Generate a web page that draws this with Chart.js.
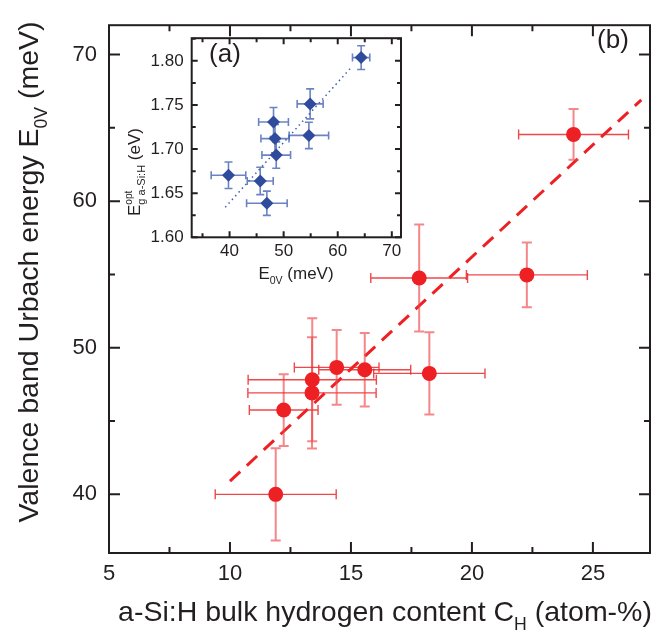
<!DOCTYPE html>
<html>
<head>
<meta charset="utf-8">
<script src="https://cdn.jsdelivr.net/npm/chart.js@4.4.1/dist/chart.umd.min.js"></script>
<style>
    html, body { margin: 0; padding: 0; background: #fff; }
    #wrap { position: relative; width: 651px; height: 638px; }
    #mainChart { position: absolute; left: 0; top: 0; }
    #insetChart { position: absolute; left: 100px; top: 20px; }
</style>
</head>
<body>
<div id="wrap">
    <canvas id="mainChart" width="651" height="638"></canvas>
    <canvas id="insetChart" width="310" height="270"></canvas>
</div>
<script>
// =====================
// DATA
// =====================

// panel (b): hydrogen content vs. Urbach energy
const hydrogenContent = [11.89, 12.22, 13.39, 13.40, 14.41, 15.57, 18.24, 17.82, 22.27, 24.20];
const hydrogenErr     = [2.50, 1.42, 2.65, 2.65, 1.75, 1.90, 2.30, 2.00, 2.50, 2.27];
const urbachEnergy    = [40.0, 45.75, 46.92, 47.82, 48.66, 48.50, 48.25, 54.76, 54.97, 64.55];
const urbachErr       = [3.15, 2.45, 3.80, 4.20, 2.55, 2.50, 2.80, 3.65, 2.20, 1.73];

// dashed guide line in (b), end points
const fitX = [10.0, 27.0];
const fitY = [40.9, 66.9];

// panel (a): Urbach energy vs. optical gap
const insetE0v    = [64.33, 54.90, 48.13, 48.40, 48.63, 54.67, 39.80, 45.67, 46.90];
const insetE0vErr = [1.60, 2.40, 2.75, 2.60, 2.65, 3.65, 3.20, 2.40, 3.75];
const insetGap    = [1.8037, 1.7512, 1.7307, 1.7119, 1.6932, 1.7155, 1.6704, 1.6639, 1.6386];
const insetGapErr = [0.0135, 0.0170, 0.0165, 0.0160, 0.0150, 0.0150, 0.0150, 0.0155, 0.0137];

// dotted guide line in (a), end points
const insetFitX = [39.2, 62.7];
const insetFitY = [1.634, 1.794];

const mainXTicks = [5, 10, 15, 20, 25];
const mainYTicks = [40, 50, 60, 70];
const insetXTicks = [40, 50, 60, 70];
const insetYTicks = [1.60, 1.65, 1.70, 1.75, 1.80];

const FONT = '"Liberation Sans", Arial, Helvetica, sans-serif';
const INK = '#231f20';
const RED = '#ed2024';
const BLUE = '#2f4b9c';

// =====================
// PLUGINS
// =====================

// error bars, drawn just before the dataset that owns them
const errorBars = {
    id: 'errorBars',
    beforeDatasetDraw(chart, args) {
        const ds = chart.data.datasets[args.index];
        if (!ds.errX) return;
        const { ctx, scales: { x, y } } = chart;
        const cap = ds.errCap || 4;
        ctx.save();
        ds.data.forEach((p, i) => {
            const px = x.getPixelForValue(p.x);
            const py = y.getPixelForValue(p.y);
            const xa = x.getPixelForValue(p.x - ds.errX[i]);
            const xb = x.getPixelForValue(p.x + ds.errX[i]);
            const ya = y.getPixelForValue(p.y - ds.errY[i]);
            const yb = y.getPixelForValue(p.y + ds.errY[i]);

            ctx.strokeStyle = ds.errColorY;
            ctx.lineWidth = ds.errWidthY;
            ctx.beginPath();
            ctx.moveTo(px, ya); ctx.lineTo(px, yb);
            ctx.moveTo(px - cap, ya); ctx.lineTo(px + cap, ya);
            ctx.moveTo(px - cap, yb); ctx.lineTo(px + cap, yb);
            ctx.stroke();

            ctx.strokeStyle = ds.errColorX;
            ctx.lineWidth = ds.errWidthX;
            ctx.beginPath();
            ctx.moveTo(xa, py); ctx.lineTo(xb, py);
            ctx.moveTo(xa, py - cap); ctx.lineTo(xa, py + cap);
            ctx.moveTo(xb, py - cap); ctx.lineTo(xb, py + cap);
            ctx.stroke();
        });
        ctx.restore();
    }
};

// box frame with inward ticks on all four sides
const frameTicks = {
    id: 'frameTicks',
    afterDraw(chart, args, opts) {
        const { ctx, chartArea: a, scales: { x, y } } = chart;
        ctx.save();
        ctx.strokeStyle = opts.color;
        ctx.lineWidth = opts.width;
        ctx.strokeRect(a.left, a.top, a.right - a.left, a.bottom - a.top);

        const withMinors = (scale) => {
            const vals = scale.ticks.map(t => t.value);
            const step = vals[1] - vals[0];
            const minors = [vals[0] - step / 2, ...vals.map(v => v + step / 2)]
                .filter(v => v > scale.min && v < scale.max);
            return { vals, minors };
        };

        ctx.beginPath();
        const xs = withMinors(x);
        xs.vals.forEach(v => {
            const p = x.getPixelForValue(v);
            ctx.moveTo(p, a.bottom); ctx.lineTo(p, a.bottom - opts.major);
            ctx.moveTo(p, a.top); ctx.lineTo(p, a.top + opts.major);
        });
        xs.minors.forEach(v => {
            const p = x.getPixelForValue(v);
            ctx.moveTo(p, a.bottom); ctx.lineTo(p, a.bottom - opts.minor);
            ctx.moveTo(p, a.top); ctx.lineTo(p, a.top + opts.minor);
        });
        const ys = withMinors(y);
        ys.vals.forEach(v => {
            const p = y.getPixelForValue(v);
            ctx.moveTo(a.left, p); ctx.lineTo(a.left + opts.major, p);
            ctx.moveTo(a.right, p); ctx.lineTo(a.right - opts.major, p);
        });
        ys.minors.forEach(v => {
            const p = y.getPixelForValue(v);
            ctx.moveTo(a.left, p); ctx.lineTo(a.left + opts.minor, p);
            ctx.moveTo(a.right, p); ctx.lineTo(a.right - opts.minor, p);
        });
        ctx.stroke();
        ctx.restore();
    }
};

// text with sub/superscripts (axis titles, panel letters)
function partWidth(ctx, p, size) {
    if (p.t !== undefined) {
        ctx.font = size + 'px ' + FONT;
        return ctx.measureText(p.t).width;
    }
    let w = 0;
    if (p.sub) { ctx.font = (p.subSize || size * 0.62) + 'px ' + FONT; w = Math.max(w, ctx.measureText(p.sub).width); }
    if (p.sup) { ctx.font = (p.supSize || size * 0.55) + 'px ' + FONT; w = Math.max(w, ctx.measureText(p.sup).width); }
    return w;
}

function drawRich(ctx, item) {
    const size = item.size;
    ctx.save();
    ctx.translate(item.x, item.y);
    if (item.rotate) ctx.rotate(item.rotate);
    ctx.fillStyle = INK;
    ctx.textBaseline = 'alphabetic';
    ctx.textAlign = 'left';
    const total = item.parts.reduce((s, p) => s + partWidth(ctx, p, size), 0);
    let cx = item.align === 'left' ? 0 : -total / 2;
    item.parts.forEach(p => {
        const w = partWidth(ctx, p, size);
        if (p.t !== undefined) {
            ctx.font = size + 'px ' + FONT;
            ctx.fillText(p.t, cx, 0);
        } else {
            if (p.sub) {
                ctx.font = (p.subSize || size * 0.62) + 'px ' + FONT;
                ctx.fillText(p.sub, cx, size * 0.3);
            }
            if (p.sup) {
                ctx.font = (p.supSize || size * 0.55) + 'px ' + FONT;
                ctx.fillText(p.sup, cx, -size * 0.45);
            }
        }
        cx += w;
    });
    ctx.restore();
}

const richText = {
    id: 'richText',
    afterDraw(chart, args, opts) {
        opts.items.forEach(item => drawRich(chart.ctx, item));
    }
};

// =====================
// PANEL (b)
// =====================

new Chart(document.getElementById('mainChart'), {
    type: 'scatter',
    plugins: [errorBars, frameTicks, richText],
    data: {
        datasets: [
            {
                label: 'a-Si:H',
                data: hydrogenContent.map((v, i) => ({ x: v, y: urbachEnergy[i] })),
                errX: hydrogenErr,
                errY: urbachErr,
                errCap: 5,
                errColorX: 'rgba(236, 40, 44, 0.85)',
                errWidthX: 1.4,
                errColorY: 'rgba(238, 70, 74, 0.65)',
                errWidthY: 2,
                pointRadius: 7.5,
                pointBackgroundColor: RED,
                pointBorderWidth: 0,
                order: 0
            },
            {
                label: 'fit',
                data: fitX.map((v, i) => ({ x: v, y: fitY[i] })),
                showLine: true,
                borderColor: RED,
                borderWidth: 3,
                borderDash: [14, 9],
                pointRadius: 0,
                fill: false,
                order: 1
            }
        ]
    },
    options: {
        responsive: false,
        animation: false,
        events: [],
        layout: { padding: { top: 8, right: 1, left: 0, bottom: 0 }, autoPadding: false },
        plugins: {
            legend: { display: false },
            tooltip: { enabled: false },
            frameTicks: { color: INK, width: 2, major: 11, minor: 6 },
            richText: {
                items: [
                    { x: 385, y: 621, size: 28.5, parts: [
                        { t: 'a-Si:H bulk hydrogen content C' }, { sub: 'H' }, { t: ' (atom-%)' }] },
                    { x: 38, y: 272, size: 28.5, rotate: -Math.PI / 2, parts: [
                        { t: 'Valence band Urbach energy E' }, { sub: '0V' }, { t: ' (meV)' }] },
                    { x: 613, y: 48, size: 26, parts: [{ t: '(b)' }] }
                ]
            }
        },
        scales: {
            x: {
                type: 'linear', min: 5, max: 27.36,
                afterBuildTicks: (s) => { s.ticks = mainXTicks.map(v => ({ value: v })); },
                afterFit: (s) => { s.height = 85; },
                ticks: { font: { size: 22, family: FONT }, color: INK, padding: 8, maxRotation: 0 },
                grid: { display: false, drawTicks: false },
                border: { display: false }
            },
            y: {
                type: 'linear', min: 36, max: 72,
                afterBuildTicks: (s) => { s.ticks = mainYTicks.map(v => ({ value: v })); },
                afterFit: (s) => { s.width = 109; },
                ticks: { font: { size: 22, family: FONT }, color: INK, padding: 12 },
                grid: { display: false, drawTicks: false },
                border: { display: false }
            }
        }
    }
});

// =====================
// PANEL (a) INSET
// =====================

new Chart(document.getElementById('insetChart'), {
    type: 'scatter',
    plugins: [errorBars, frameTicks, richText],
    data: {
        datasets: [
            {
                label: 'gap',
                data: insetE0v.map((v, i) => ({ x: v, y: insetGap[i] })),
                errX: insetE0vErr,
                errY: insetGapErr,
                errCap: 4,
                errColorX: 'rgba(70, 100, 180, 0.8)',
                errWidthX: 1.6,
                errColorY: 'rgba(70, 100, 180, 0.8)',
                errWidthY: 1.6,
                pointStyle: 'rectRot',
                pointRadius: 6.5,
                pointBackgroundColor: BLUE,
                pointBorderWidth: 0,
                order: 0
            },
            {
                label: 'fit',
                data: insetFitX.map((v, i) => ({ x: v, y: insetFitY[i] })),
                showLine: true,
                borderColor: '#3d5db0',
                borderWidth: 1.5,
                borderDash: [1.5, 3.5],
                pointRadius: 0,
                fill: false,
                order: 1
            }
        ]
    },
    options: {
        responsive: false,
        animation: false,
        events: [],
        layout: { padding: { top: 9, right: 9, left: 0, bottom: 0 }, autoPadding: false },
        plugins: {
            legend: { display: false },
            tooltip: { enabled: false },
            frameTicks: { color: INK, width: 2, major: 6, minor: 4 },
            richText: {
                items: [
                    { x: 196, y: 259, size: 17, parts: [{ t: 'E' }, { sub: '0V' }, { t: ' (meV)' }] },
                    { x: 40, y: 196, size: 17, rotate: -Math.PI / 2, align: 'left', parts: [
                        { t: 'E' }, { sup: 'opt', supSize: 10, sub: 'g a-Si:H', subSize: 11 }, { t: ' (eV)' }] },
                    { x: 125, y: 42, size: 26, parts: [{ t: '(a)' }] }
                ]
            }
        },
        scales: {
            x: {
                type: 'linear', min: 33, max: 71.7,
                afterBuildTicks: (s) => { s.ticks = insetXTicks.map(v => ({ value: v })); },
                afterFit: (s) => { s.height = 52.7; },
                ticks: { font: { size: 17, family: FONT }, color: INK, padding: 4, maxRotation: 0 },
                grid: { display: false, drawTicks: false },
                border: { display: false }
            },
            y: {
                type: 'linear', min: 1.6, max: 1.8257,
                afterBuildTicks: (s) => { s.ticks = insetYTicks.map(v => ({ value: v })); },
                afterFit: (s) => { s.width = 91.7; },
                ticks: { font: { size: 17, family: FONT }, color: INK, padding: 8,
                         callback: (v) => v.toFixed(2) },
                grid: { display: false, drawTicks: false },
                border: { display: false }
            }
        }
    }
});
</script>
</body>
</html>
